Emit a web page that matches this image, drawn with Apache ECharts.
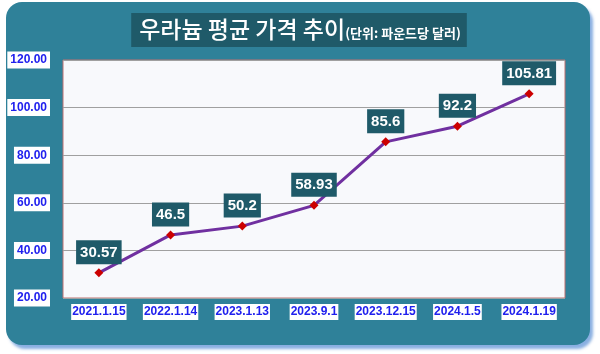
<!DOCTYPE html>
<html>
<head>
<meta charset="utf-8">
<script src="https://cdn.jsdelivr.net/npm/echarts@6/dist/echarts.min.js"></script>
<style>
  html, body { margin: 0; padding: 0; background: #ffffff; }
  #panel {
    position: absolute; left: 6px; top: 2px; width: 584px; height: 343px;
    background: #2f8199; border-radius: 16px;
    box-shadow: 3px 4px 3px rgba(40, 110, 200, 0.55);
  }
  #chart { position: absolute; left: 0; top: 0; width: 600px; height: 354px; }
</style>
</head>
<body>
<div id="panel"></div>
<div id="chart"></div>
<script>
var dates = ['2021.1.15', '2022.1.14', '2023.1.13', '2023.9.1', '2023.12.15', '2024.1.5', '2024.1.19'];
var prices = [30.57, 46.5, 50.2, 58.93, 85.6, 92.2, 105.81];

var dom = document.getElementById('chart');
var myChart = echarts.init(dom, null, { renderer: 'canvas' });

var option = {
  backgroundColor: 'transparent',
  title: {
    text: '{a|우라늄 평균 가격 추이}{b|(단위: 파운드당 달러)}',
    left: 'center',
    top: 13,
    backgroundColor: '#1f5a69',
    padding: [5, 6, 6, 8],
    textStyle: {
      rich: {
        a: { fontSize: 23, color: '#ffffff', fontFamily: 'Noto Sans CJK KR', fontWeight: 500 },
        b: { fontSize: 13, color: '#ffffff', fontFamily: 'Noto Sans CJK KR', padding: [7, 0, 0, 0] }
      }
    }
  },
  grid: {
    left: 63, right: 35, top: 60, bottom: 56,
    show: true,
    backgroundColor: '#f8f9fc',
    borderColor: '#c07070',
    borderWidth: 1
  },
  xAxis: {
    type: 'category',
    data: dates,
    boundaryGap: true,
    axisLine: { show: false },
    axisTick: { show: false },
    axisLabel: {
      interval: 0,
      margin: 6,
      color: '#2020ee',
      fontWeight: 'bold',
      fontSize: 12,
      fontFamily: 'Liberation Sans',
      backgroundColor: '#ffffff',
      padding: [2, 1, 2, 1]
    }
  },
  yAxis: {
    type: 'value',
    min: 20,
    max: 120,
    interval: 20,
    axisLine: { show: false },
    axisTick: { show: false },
    splitLine: { lineStyle: { color: '#a0a0a0', width: 1 } },
    axisLabel: {
      margin: 13,
      color: '#2020ee',
      fontWeight: 'bold',
      fontSize: 12,
      fontFamily: 'Liberation Sans',
      backgroundColor: '#ffffff',
      padding: [3, 3, 2, 3],
      formatter: function (v) { return v.toFixed(2); }
    }
  },
  series: [{
    type: 'line',
    data: prices,
    symbol: 'diamond',
    symbolSize: 9,
    itemStyle: { color: '#cc0000' },
    lineStyle: { color: '#7030a0', width: 3 },
    label: {
      show: true,
      position: 'top',
      distance: 4,
      color: '#ffffff',
      fontSize: 15,
      fontWeight: 'bold',
      fontFamily: 'Liberation Sans',
      backgroundColor: '#1f5a69',
      padding: [5, 4, 4, 4]
    },
    animation: false
  }]
};

myChart.setOption(option);
window.addEventListener('resize', myChart.resize);
</script>
</body>
</html>
